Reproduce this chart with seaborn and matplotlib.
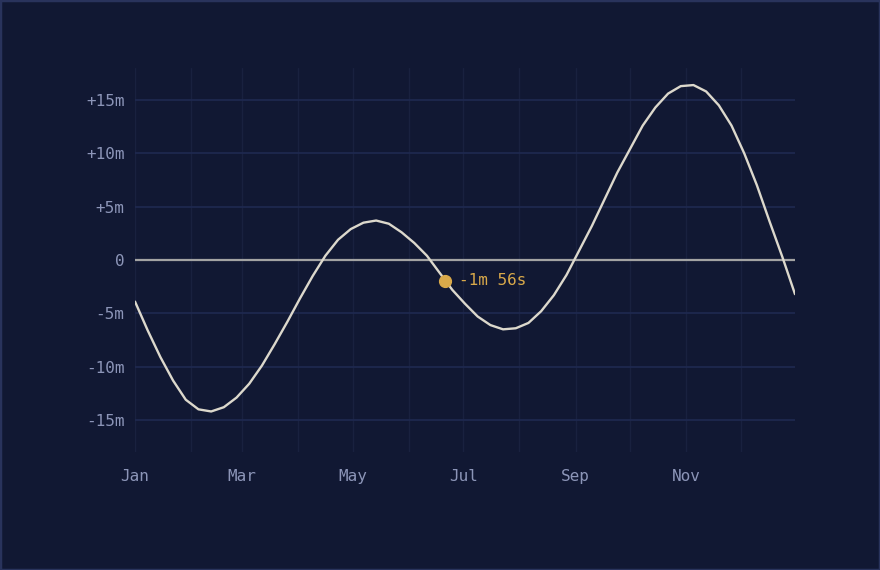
import numpy as np
import pandas as pd
import matplotlib
matplotlib.use("Agg")
import matplotlib.pyplot as plt
import matplotlib.dates as mdates
import seaborn as sns

# Ecuación del tiempo, una muestra por semana (minutos)
fechas = pd.date_range("2023-01-01", "2023-12-31", freq="7D")
minutos = [
    -3.9, -6.6, -9.1, -11.3, -13.1, -14.0, -14.2, -13.8, -12.9, -11.6,
    -9.9, -7.9, -5.8, -3.6, -1.5, 0.4, 1.9, 2.9, 3.5, 3.7,
    3.4, 2.6, 1.6, 0.4, -1.2, -2.8, -4.1, -5.3, -6.1, -6.5,
    -6.4, -5.9, -4.8, -3.3, -1.4, 0.9, 3.2, 5.7, 8.2, 10.4,
    12.6, 14.3, 15.6, 16.3, 16.4, 15.8, 14.5, 12.6, 10.0, 7.0,
    3.6, 0.3, -3.2,
]
marca_fecha = pd.Timestamp("2023-06-21")
marca_valor = -(1 + 56 / 60)
marca_texto = "-1m 56s"

y_ticks = [-15, -10, -5, 0, 5, 10, 15]
y_labels = ["-15m", "-10m", "-5m", "0", "+5m", "+10m", "+15m"]
meses = pd.date_range("2023-01-01", "2023-12-01", freq="MS")
meses_labels = [m.strftime("%b") if i % 2 == 0 else "" for i, m in enumerate(meses)]

df = pd.DataFrame({"fecha": fechas, "minutos": minutos})

fondo = "#111833"
sns.set_theme(style="dark")
plt.rcParams["font.family"] = ["DejaVu Sans Mono"]

fig = plt.figure(figsize=(8.8, 5.7), dpi=100, facecolor=fondo)
ax = fig.add_axes([135 / 880, 1 - 452 / 570, 660 / 880, 384 / 570])
ax.set_facecolor(fondo)

ax.axhline(0, color="#a3a3a3", linewidth=1.6, zorder=2)
sns.lineplot(data=df, x="fecha", y="minutos", ax=ax, color="#dcd8cc",
             linewidth=1.7, zorder=3)
ax.plot([marca_fecha], [marca_valor], "o", color="#d9a94a", markersize=8.5, zorder=4)
ax.annotate(marca_texto, (mdates.date2num(marca_fecha), marca_valor),
            xytext=(10, 0), textcoords="offset points", va="center",
            color="#d9a94a", fontsize=11.5)

ax.set_xlim(fechas[0], fechas[-1])
ax.set_ylim(-18, 18)
ax.set_xticks(meses)
ax.set_xticklabels(meses_labels)
ax.set_yticks(y_ticks)
ax.set_yticklabels(y_labels)
ax.grid(True, axis="y", color="#1f2950", linewidth=1.2)
ax.grid(True, axis="x", color="#19213f", linewidth=1.0)
ax.tick_params(axis="both", length=0, colors="#8c95b8", labelsize=11.5)
ax.tick_params(axis="x", pad=12)
ax.tick_params(axis="y", pad=7.5)
ax.set_xlabel("")
ax.set_ylabel("")
for s in ax.spines.values():
    s.set_visible(False)

# marco de la figura
fig.patches.append(plt.Rectangle((0, 0), 1, 1, transform=fig.transFigure,
                                 fill=False, edgecolor="#29335c", linewidth=2.5))

fig.savefig("out.png", dpi=100, facecolor=fondo)
